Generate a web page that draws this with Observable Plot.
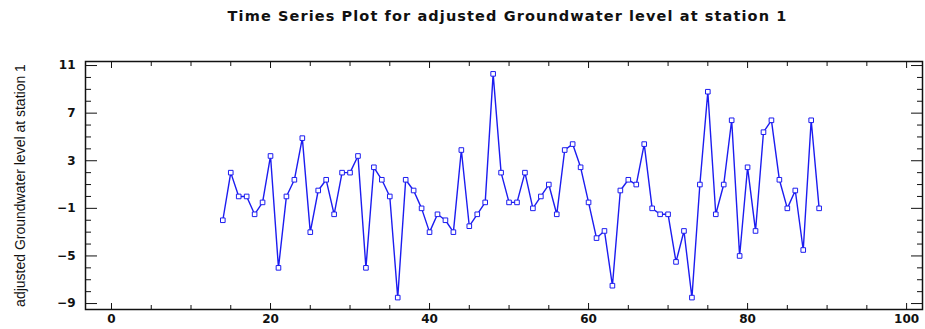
<!DOCTYPE html>
<html>
<head>
<meta charset="utf-8">
<script src="https://cdn.jsdelivr.net/npm/d3@7"></script>
<script src="https://cdn.jsdelivr.net/npm/@observablehq/plot@0.6"></script>
<style>
  html, body { margin: 0; padding: 0; background: #fff; }
  #title {
    width: 925px; height: 38px; box-sizing: border-box;
    padding-left: 90px; padding-top: 8px;
    text-align: center; line-height: 16px;
    font-family: "DejaVu Sans", sans-serif; font-weight: bold; font-size: 14.5px;
    letter-spacing: 1.1px; color: #111; white-space: nowrap;
  }
  #chart svg { display: block; }
</style>
</head>
<body>
<div id="title">Time Series Plot for adjusted Groundwater level at station 1</div>
<div id="chart"></div>
<script>
const yLabel = "adjusted Groundwater level at station 1";
const time = [14,15,16,17,18,19,20,21,22,23,24,25,26,27,28,29,30,31,32,33,34,35,36,37,38,39,40,41,42,43,44,45,46,47,48,49,50,51,52,53,54,55,56,57,58,59,60,61,62,63,64,65,66,67,68,69,70,71,72,73,74,75,76,77,78,79,80,81,82,83,84,85,86,87,88,89];
const level = [-2.0,2.0,0,0,-1.5,-0.5,3.4,-6.0,0,1.4,4.9,-3.0,0.5,1.4,-1.5,2.0,2.0,3.4,-6.0,2.45,1.4,0,-8.5,1.4,0.5,-1.0,-3.0,-1.5,-2.0,-3.0,3.9,-2.5,-1.5,-0.5,10.3,2.0,-0.5,-0.5,2.0,-1.0,0,1.0,-1.5,3.9,4.4,2.45,-0.5,-3.5,-2.9,-7.5,0.5,1.4,1.0,4.4,-1.0,-1.5,-1.5,-5.5,-2.9,-8.5,1.0,8.8,-1.5,1.0,6.4,-5.0,2.45,-2.9,5.4,6.4,1.4,-1.0,0.5,-4.5,6.4,-1.0];
const xMajorTicks = [0,20,40,60,80,100];
const xMinorTicks = [5,10,15,25,30,35,45,50,55,65,70,75,85,90,95];
const yMajorTicks = [-9,-5,-1,3,7,11];
const yMinorTicks = [-8,-7,-6,-4,-3,-2,0,1,2,4,5,6,8,9,10];

const rows = time.map((t, i) => ({t, v: level[i]}));
const blank = () => "";
const blue = "#1c1cf0";

const chart = Plot.plot({
  width: 925,
  height: 291,
  marginLeft: 85,
  marginRight: 3,
  marginTop: 23,
  marginBottom: 20,
  style: {fontFamily: "DejaVu Sans, sans-serif", fontSize: "12px", color: "#111", background: "#fff"},
  x: {domain: [-3.27, 102.0]},
  y: {domain: [-9.5, 11.34]},
  marks: [
    Plot.axisY(yMajorTicks, {anchor: "left", tickSize: 0, tickPadding: 10, fontWeight: "bold", label: null}),
    Plot.axisY(yMajorTicks, {anchor: "left", tickSize: -12, tickFormat: blank, label: null}),
    Plot.axisY(yMinorTicks, {anchor: "left", tickSize: -6, tickFormat: blank, label: null}),
    Plot.axisY(yMajorTicks, {anchor: "right", tickSize: -12, tickFormat: blank, label: null}),
    Plot.axisY(yMinorTicks, {anchor: "right", tickSize: -6, tickFormat: blank, label: null}),
    Plot.axisX(xMajorTicks, {anchor: "bottom", tickSize: 0, tickPadding: 5, fontWeight: "bold", label: null}),
    Plot.axisX(xMajorTicks, {anchor: "bottom", tickSize: -6, tickFormat: blank, label: null}),
    Plot.axisX(xMinorTicks, {anchor: "bottom", tickSize: -4, tickFormat: blank, label: null}),
    Plot.axisX(xMajorTicks, {anchor: "top", tickSize: -6, tickFormat: blank, label: null}),
    Plot.axisX(xMinorTicks, {anchor: "top", tickSize: -4, tickFormat: blank, label: null}),
    Plot.text([yLabel], {text: d => d, frameAnchor: "left", rotate: -90, dx: -65,
      textAnchor: "middle", lineAnchor: "middle",
      fontFamily: "Liberation Sans, Arial, sans-serif", fontSize: 14, fill: "#111"}),
    Plot.frame({stroke: "#111", strokeWidth: 1.5}),
    Plot.line(rows, {x: "t", y: "v", stroke: blue, strokeWidth: 1.4}),
    Plot.dot(rows, {x: "t", y: "v", symbol: "square", r: 2.6, stroke: blue, fill: "#fff", strokeWidth: 1})
  ]
});
document.getElementById("chart").appendChild(chart);
</script>
</body>
</html>
